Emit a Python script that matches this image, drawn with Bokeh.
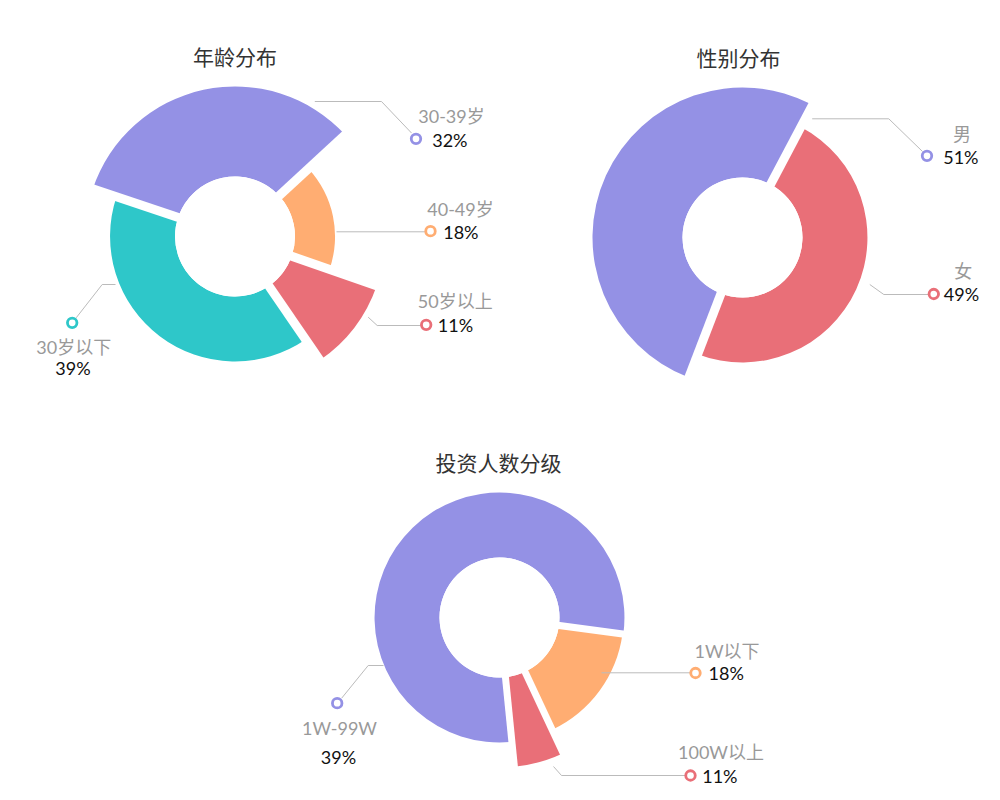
import math
from bokeh.plotting import figure
from bokeh.models import Range1d
from bokeh.embed import file_html
from bokeh.resources import INLINE
from bokeh.core.properties import value

# ---------------- data ----------------
# Chart 1: 年龄分布
age_names = ["30-39岁", "40-49岁", "50岁以上", "30岁以下"]
age_pct_labels = ["32%", "18%", "11%", "39%"]
age_shares = [33.0, 17.2, 10.1, 39.7]          # sector sizes (%)
age_rose = [1.0, 0.667, 1.0, 0.833]            # relative sector length

# Chart 2: 性别分布
sex_names = ["男", "女"]
sex_pct_labels = ["51%", "49%"]
sex_shares = [51.9, 48.1]
sex_rose = [1.0, 0.833]

# Chart 3: 投资人数分级
inv_names = ["1W-99W", "1W以下", "100W以上"]
inv_pct_labels = ["39%", "18%", "11%"]
inv_shares = [78.7, 15.9, 5.4]
inv_rose = [0.833, 0.827, 1.0]

# ---------------- style / layout ----------------
PURPLE = "#9491e5"
ORANGE = "#ffad72"
RED = "#e96f78"
TEAL = "#2ec7c9"
NAME_COLOR = "#999999"
PCT_COLOR = "#111111"
TITLE_COLOR = "#333333"
LINE_COLOR = "#bbbbbb"
LATIN_FONT = "Lato, 'Noto Sans CJK SC'"
TITLE_FONT = "'Noto Sans CJK SC'"

W, H = 984, 792


def Y(sy):
    # screen y -> data y
    return 800 - sy


charts = [
    dict(names=age_names, pcts=age_pct_labels, shares=age_shares, rose=age_rose,
         colors=[PURPLE, ORANGE, RED, TEAL],
         cx=234.5, cy=236, r_in=60, r_max=150, start=161.5, gap=9,
         title="年龄分布", tx=234.5, ty=55,
         labels=[
             dict(name=(451, 115), pct=(431.7, 139), pct_align="left", dot=(415.5, 138.3),
                  leader=[(314.3, 101), (381, 101), (411, 132.5)]),
             dict(name=(460, 208.3), pct=(442.7, 231), pct_align="left", dot=(430, 230.7),
                  leader=[(336, 231.3), (424.5, 231.3)]),
             dict(name=(454.7, 300.7), pct=(437.3, 324), pct_align="left", dot=(425.7, 324.3),
                  leader=[(367.7, 316.7), (376.7, 325), (420.3, 325)]),
             dict(name=(73.3, 346.7), pct=(72.5, 367), pct_align="center", dot=(71.7, 322.3),
                  leader=[(115, 284), (101.7, 284), (75.7, 317.3)]),
         ]),
    dict(names=sex_names, pcts=sex_pct_labels, shares=sex_shares, rose=sex_rose,
         colors=[PURPLE, RED],
         cx=742, cy=237, r_in=60, r_max=150, start=249, gap=9,
         title="性别分布", tx=738, ty=56,
         labels=[
             dict(name=(961.5, 133), pct=(942.7, 156.7), pct_align="left", dot=(926.5, 155.3),
                  leader=[(811.7, 118.3), (888.3, 118.3), (922, 151)]),
             dict(name=(962.7, 270), pct=(943.3, 293.3), pct_align="left", dot=(933.3, 293.5),
                  leader=[(869.3, 284), (883.3, 294), (928.3, 294)]),
         ]),
    dict(names=inv_names, pcts=inv_pct_labels, shares=inv_shares, rose=inv_rose,
         colors=[PURPLE, ORANGE, RED],
         cx=499, cy=617, r_in=60, r_max=150, start=275.7, gap=7,
         title="投资人数分级", tx=498, ty=461,
         labels=[
             dict(name=(339, 727.3), pct=(338, 756.7), pct_align="center", dot=(336.7, 702.7),
                  leader=[(383, 665), (367.7, 665), (341.3, 697.5)]),
             dict(name=(726.5, 650), pct=(708, 672), pct_align="left", dot=(695, 672.5),
                  leader=[(601, 672.3), (689.8, 672.3)]),
             dict(name=(720.5, 751), pct=(701.7, 775), pct_align="left", dot=(690, 775),
                  leader=[(553, 766), (561, 775), (684.8, 775)]),
         ]),
]

p = figure(width=W, height=H, x_range=Range1d(0, W), y_range=Range1d(800 - H, 800),
           output_backend="svg", toolbar_location=None, min_border=0)
p.axis.visible = False
p.grid.visible = False
p.outline_line_color = None
p.background_fill_color = "white"
p.border_fill_color = "white"

for ch in charts:
    cx, cy = ch["cx"], Y(ch["cy"])
    total = sum(ch["shares"])
    a = ch["start"]
    bounds = []
    for share, rose, col in zip(ch["shares"], ch["rose"], ch["colors"]):
        span = share / total * 360.0
        a_end = a - span  # clockwise
        p.annular_wedge(x=cx, y=cy, inner_radius=ch["r_in"], outer_radius=ch["r_max"] * rose,
                        inner_radius_units="screen", outer_radius_units="screen",
                        start_angle=a_end, end_angle=a, start_angle_units="deg",
                        end_angle_units="deg", direction="anticlock",
                        fill_color=col, line_color=None)
        bounds.append(a)
        a = a_end
    # white separators between sectors
    L = ch["r_max"] + 12
    p.segment(x0=[cx] * len(bounds), y0=[cy] * len(bounds),
              x1=[cx + L * math.cos(math.radians(b)) for b in bounds],
              y1=[cy + L * math.sin(math.radians(b)) for b in bounds],
              line_color="white", line_width=ch["gap"], line_cap="butt")
    # white hole
    p.scatter(x=[cx], y=[cy], size=2 * ch["r_in"], fill_color="white", line_color=None)

    # title
    p.text(x=[ch["tx"]], y=[Y(ch["ty"])], text=[ch["title"]], text_font=value(TITLE_FONT),
           text_font_size="21px", text_color=TITLE_COLOR, text_align="center",
           text_baseline="middle")

    for name, pct, col, lab in zip(ch["names"], ch["pcts"], ch["colors"], ch["labels"]):
        xs = [pt[0] for pt in lab["leader"]]
        ys = [Y(pt[1]) for pt in lab["leader"]]
        p.line(x=xs, y=ys, line_color=LINE_COLOR, line_width=1)
        p.scatter(x=[lab["dot"][0]], y=[Y(lab["dot"][1])], marker="circle", size=9.5,
                  fill_color="white", line_color=col, line_width=2.8)
        p.text(x=[lab["name"][0]], y=[Y(lab["name"][1])], text=[name],
               text_font=value(LATIN_FONT), text_font_size="18px", text_color=NAME_COLOR,
               text_align="center", text_baseline="middle")
        p.text(x=[lab["pct"][0]], y=[Y(lab["pct"][1])], text=[pct],
               text_font=value(LATIN_FONT), text_font_size="18px", text_color=PCT_COLOR,
               text_align=lab["pct_align"], text_baseline="middle")

open("out.html", "w").write(file_html(p, INLINE))
